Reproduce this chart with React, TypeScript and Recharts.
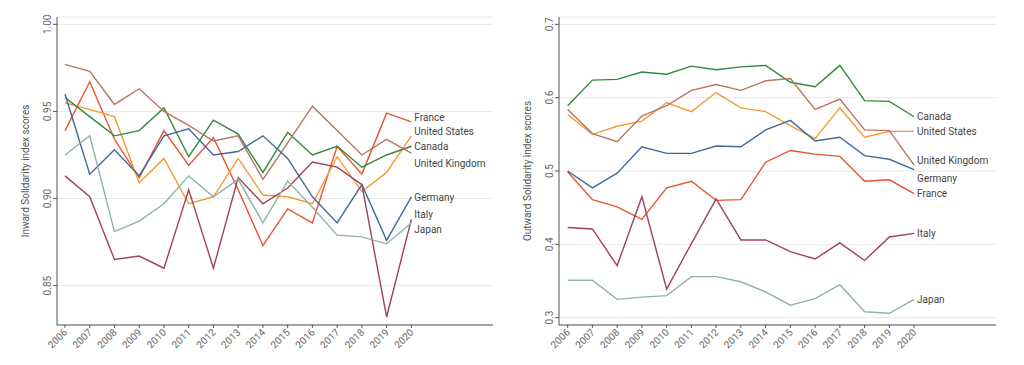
import React from 'react'
import { LineChart, Line, XAxis, YAxis, CartesianGrid, LabelList } from 'recharts'

const years = [2006, 2007, 2008, 2009, 2010, 2011, 2012, 2013, 2014, 2015, 2016, 2017, 2018, 2019, 2020]

// Inward solidarity index scores
const inwardFrance = [0.939, 0.967, 0.934, 0.912, 0.939, 0.919, 0.935, 0.905, 0.873, 0.894, 0.886, 0.930, 0.914, 0.949, 0.944]
const inwardUS = [0.955, 0.951, 0.947, 0.909, 0.923, 0.897, 0.901, 0.923, 0.902, 0.901, 0.897, 0.924, 0.904, 0.915, 0.936]
const inwardCanada = [0.958, 0.947, 0.936, 0.939, 0.952, 0.924, 0.945, 0.937, 0.915, 0.938, 0.925, 0.930, 0.918, 0.925, 0.930]
const inwardUK = [0.977, 0.973, 0.954, 0.963, 0.950, 0.942, 0.933, 0.936, 0.911, 0.932, 0.953, 0.939, 0.925, 0.934, 0.926]
const inwardGermany = [0.960, 0.914, 0.928, 0.913, 0.936, 0.940, 0.925, 0.927, 0.936, 0.923, 0.901, 0.886, 0.908, 0.876, 0.901]
const inwardItaly = [0.913, 0.901, 0.865, 0.867, 0.860, 0.905, 0.860, 0.912, 0.897, 0.906, 0.921, 0.918, 0.908, 0.832, 0.888]
const inwardJapan = [0.925, 0.936, 0.881, 0.887, 0.897, 0.913, 0.901, 0.911, 0.886, 0.910, 0.895, 0.879, 0.878, 0.874, 0.886]

// Outward solidarity index scores
const outwardFrance = [0.499, 0.461, 0.451, 0.434, 0.477, 0.486, 0.460, 0.461, 0.512, 0.528, 0.523, 0.520, 0.486, 0.488, 0.469]
const outwardUS = [0.577, 0.550, 0.561, 0.568, 0.593, 0.581, 0.607, 0.586, 0.581, 0.562, 0.544, 0.586, 0.546, 0.554, 0.554]
const outwardCanada = [0.589, 0.624, 0.625, 0.635, 0.632, 0.643, 0.638, 0.642, 0.644, 0.621, 0.615, 0.644, 0.596, 0.595, 0.574]
const outwardUK = [0.584, 0.551, 0.540, 0.575, 0.589, 0.610, 0.618, 0.610, 0.623, 0.626, 0.584, 0.598, 0.556, 0.555, 0.508]
const outwardGermany = [0.500, 0.477, 0.497, 0.533, 0.524, 0.524, 0.534, 0.533, 0.556, 0.569, 0.541, 0.546, 0.521, 0.516, 0.502]
const outwardItaly = [0.423, 0.421, 0.371, 0.465, 0.339, 0.401, 0.462, 0.406, 0.406, 0.390, 0.380, 0.402, 0.378, 0.410, 0.415]
const outwardJapan = [0.351, 0.351, 0.325, 0.328, 0.330, 0.356, 0.356, 0.349, 0.335, 0.317, 0.326, 0.345, 0.308, 0.306, 0.325]

const inwardTicks = [0.85, 0.9, 0.95, 1.0]
const outwardTicks = [0.3, 0.4, 0.5, 0.6, 0.7]

const countries = ['France', 'United States', 'Canada', 'United Kingdom', 'Germany', 'Italy', 'Japan']

const COLORS: Record<string, string> = {
  France: '#E8542C',
  'United States': '#F59A35',
  Canada: '#2F8A3C',
  'United Kingdom': '#B87560',
  Germany: '#41699A',
  Italy: '#A33F58',
  Japan: '#8FB3A6',
}

// nudges so the end labels don't collide
const inwardLabelDy: Record<string, number> = {
  France: -4, 'United States': -4, Canada: 0, 'United Kingdom': 10, Germany: 1, Italy: -5, Japan: 7,
}
const outwardLabelDy: Record<string, number> = {
  France: 0, 'United States': 0, Canada: 0, 'United Kingdom': -5, Germany: 9, Italy: 0, Japan: 0,
}

const inwardSeries: Record<string, number[]> = {
  France: inwardFrance, 'United States': inwardUS, Canada: inwardCanada, 'United Kingdom': inwardUK,
  Germany: inwardGermany, Italy: inwardItaly, Japan: inwardJapan,
}
const outwardSeries: Record<string, number[]> = {
  France: outwardFrance, 'United States': outwardUS, Canada: outwardCanada, 'United Kingdom': outwardUK,
  Germany: outwardGermany, Italy: outwardItaly, Japan: outwardJapan,
}

const toRows = (series: Record<string, number[]>) =>
  years.map((year, i) => {
    const row: Record<string, number> = { year }
    countries.forEach((c) => (row[c] = series[c][i]))
    return row
  })

const XTick = ({ x, y, payload }: any) => (
  <text
    x={x + 3}
    y={y + 3}
    transform={`rotate(-45 ${x + 3} ${y + 3})`}
    textAnchor="end"
    fill="#666"
    fontSize={10}
  >
    {payload.value}
  </text>
)

const makeYTick = (digits: number) => ({ x, y, payload }: any) => (
  <text x={x} y={y} transform={`rotate(-90 ${x} ${y})`} textAnchor="middle" fill="#666" fontSize={10}>
    {Number(payload.value).toFixed(digits)}
  </text>
)

interface PanelProps {
  series: Record<string, number[]>
  domain: [number, number]
  ticks: number[]
  digits: number
  title: string
  labelDy: Record<string, number>
  left: number
  width: number
  right: number
  xDomain: [number, number]
}

function Panel({ series, domain, ticks, digits, title, labelDy, left, width, right, xDomain }: PanelProps) {
  const data = toRows(series)
  const last = years.length - 1
  return (
    <div style={{ position: 'absolute', left, top: 0 }}>
      <LineChart width={width} height={365} data={data} margin={{ top: 17, right, bottom: 10, left: 0 }}>
        <CartesianGrid horizontal vertical={false} stroke="#e8e8e8" />
        <XAxis
          dataKey="year"
          type="number"
          domain={xDomain}
          ticks={years}
          interval={0}
          height={30}
          tick={<XTick />}
          tickSize={3}
          stroke="#555"
          allowDataOverflow
        />
        <YAxis
          type="number"
          domain={domain}
          ticks={ticks}
          width={57}
          tick={makeYTick(digits)}
          tickSize={4}
          stroke="#555"
          allowDataOverflow
          label={{
            value: title,
            angle: -90,
            position: 'insideLeft',
            offset: 25,
            style: { textAnchor: 'middle', fill: '#555', fontSize: 10 },
          }}
        />
        {countries.map((c) => (
          <Line
            key={c}
            dataKey={c}
            stroke={COLORS[c]}
            strokeWidth={1.4}
            dot={false}
            isAnimationActive={false}
          >
            <LabelList
              dataKey={c}
              content={(p: any) =>
                p.index === last ? (
                  <text
                    x={p.x + 3}
                    y={p.y + labelDy[c]}
                    dominantBaseline="central"
                    fill="#444"
                    fontSize={10}
                  >
                    {c}
                  </text>
                ) : null
              }
            />
          </Line>
        ))}
      </LineChart>
    </div>
  )
}

export default function App() {
  return (
    <div
      style={{
        position: 'absolute',
        left: 0,
        top: 0,
        width: 1024,
        height: 365,
        background: '#fff',
        fontFamily: 'Roboto, sans-serif',
      }}
    >
      <Panel
        series={inwardSeries}
        domain={[0.8274, 1.0042]}
        ticks={inwardTicks}
        digits={2}
        title="Inward Solidarity index scores"
        labelDy={inwardLabelDy}
        left={0}
        width={510}
        right={17}
        xDomain={[2005.677, 2023.3]}
      />
      <Panel
        series={outwardSeries}
        domain={[0.29, 0.71]}
        ticks={outwardTicks}
        digits={1}
        title="Outward Solidarity index scores"
        labelDy={outwardLabelDy}
        left={502}
        width={522}
        right={28}
        xDomain={[2005.65, 2023.31]}
      />
    </div>
  )
}
